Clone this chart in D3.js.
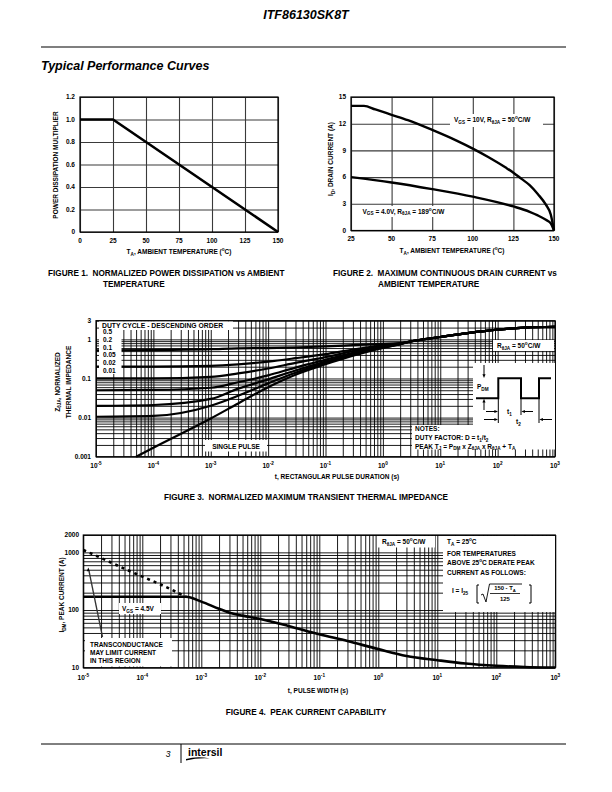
<!DOCTYPE html>
<html><head><meta charset="utf-8">
<script src="https://cdn.jsdelivr.net/npm/d3@7"></script>
<style>
body{margin:0;background:#fff;}
svg{display:block;font-family:"Liberation Sans",Arial,Helvetica,sans-serif;}
text{font-weight:bold;fill:#000;white-space:pre;}
</style></head><body>
<svg id="page" width="612" height="792"></svg>
<script>
// ---------------- DATA ----------------
// Figure 1
const fig1Temp = [0, 25, 150];
const fig1Mult = [1.0, 1.0, 0.0];
const fig1XTicks = [0, 25, 50, 75, 100, 125, 150];
const fig1YTicks = [0, 0.2, 0.4, 0.6, 0.8, 1.0, 1.2];
const fig1YLabels = ["0", "0.2", "0.4", "0.6", "0.8", "1.0", "1.2"];

// Figure 2
const fig2Temp10V = [25, 33, 40, 50, 60, 75, 90, 100, 110, 120, 125, 130, 135, 140, 145, 148, 150];
const fig2Id10V   = [14, 14, 13.6, 13.0, 12.4, 11.3, 10.1, 9.2, 8.2, 7.1, 6.5, 5.8, 5.1, 4.1, 2.9, 1.8, 0];
const fig2Temp4V  = [25, 50, 75, 100, 125, 135, 140, 145, 148, 150];
const fig2Id4V    = [6.0, 5.4, 4.65, 3.8, 2.7, 2.1, 1.7, 1.2, 0.8, 0];
const fig2XTicks = [25, 50, 75, 100, 125, 150];
const fig2YTicks = [0, 3, 6, 9, 12, 15];

// Figure 3 (normalized transient thermal impedance)
const fig3Time   = [1e-5, 1e-4, 1e-3, 3e-3, 1e-2, 3e-2, 0.1, 0.3, 1, 2];
const fig3D050   = [0.52, 0.53, 0.56, 0.59, 0.60, 0.62, 0.66, 0.71, 0.77, 0.80];
const fig3D020   = [0.20, 0.20, 0.21, 0.23, 0.27, 0.33, 0.42, 0.55, 0.70, 0.79];
const fig3D010   = [0.10, 0.10, 0.11, 0.135, 0.18, 0.25, 0.35, 0.50, 0.68, 0.78];
const fig3D005   = [0.05, 0.051, 0.058, 0.08, 0.12, 0.19, 0.30, 0.45, 0.65, 0.77];
const fig3D002   = [0.02, 0.021, 0.03, 0.055, 0.095, 0.16, 0.27, 0.42, 0.63, 0.76];
const fig3D001   = [0.0105, 0.011, 0.02, 0.036, 0.075, 0.14, 0.25, 0.40, 0.62, 0.75];
const fig3SingleTime = [5e-5, 1e-4, 1e-3, 3e-3, 1e-2, 3e-2, 0.1, 0.3, 1, 2];
const fig3SingleZ    = [0.001, 0.0017, 0.0095, 0.023, 0.06, 0.125, 0.23, 0.38, 0.60, 0.74];
const fig3TailTime = [3, 10, 30, 100, 300, 1000];
const fig3TailZ    = [0.88, 1.15, 1.45, 1.78, 2.0, 2.1];
const fig3DutyLabels = ["0.5", "0.2", "0.1", "0.05", "0.02", "0.01"];
const fig3YTicks  = [0.001, 0.01, 0.1, 1, 3];
const fig3YLabels = ["0.001", "0.01", "0.1", "1", "3"];
const decadeExps = [-5, -4, -3, -2, -1, 0, 1, 2, 3];

// Figure 4 (peak current capability)
const fig4SolidTime = [1e-5, 5.5e-4, 1e-3, 2e-3, 3e-3, 5e-3, 1e-2, 3e-2, 0.1, 0.3, 1, 3, 10, 30, 100, 300, 1000];
const fig4SolidI    = [170, 170, 140, 105, 90, 80, 70, 53, 38, 29, 21, 16, 13.5, 11.8, 10.8, 10.3, 10.1];
const fig4DashTime  = [1e-5, 2e-5, 5e-5, 1e-4, 2e-4, 5.5e-4];
const fig4DashI     = [1100, 800, 520, 380, 280, 170];
const fig4YTicks  = [10, 100, 1000, 2000];
const fig4YLabels = ["10", "100", "1000", "2000"];

// ---------------- HELPERS ----------------
const svg = d3.select("#page");
const FS = 6.5;

function rich(g, x, y, parts, size, anchor) {
  const t = g.append("text").attr("x", x).attr("y", y)
    .attr("font-size", size).attr("text-anchor", anchor || "start");
  let shift = 0;
  parts.forEach(p => {
    const s = typeof p === "string" ? p : p[0];
    const k = typeof p === "string" ? "" : p[1];
    const target = k === "sub" ? size * 0.3 : (k === "sup" ? -size * 0.45 : 0);
    const ts = t.append("tspan").text(s).attr("dy", target - shift);
    if (k) ts.attr("font-size", size * 0.72);
    shift = target;
  });
  return t;
}
function vrich(g, cx, cy, parts, size) {
  const gg = g.append("g").attr("transform", `translate(${cx},${cy}) rotate(-90)`);
  return rich(gg, 0, 0, parts, size, "middle");
}
function logVals(lo, hi) {
  const v = [];
  for (let e = lo; e < hi; e++) for (let m = 1; m < 10; m++) v.push(+(m * Math.pow(10, e)).toPrecision(6));
  v.push(Math.pow(10, hi));
  return v;
}
function grid(g, x, y, xv, yv, color, sw) {
  const [y0, y1] = y.range();
  const [x0, x1] = x.range();
  g.append("g").attr("transform", `translate(0,${y0})`)
    .call(d3.axisBottom(x).tickValues(xv).tickSize(y1 - y0).tickFormat(""))
    .call(a => a.select(".domain").remove())
    .selectAll("line").attr("stroke", color).attr("stroke-width", sw);
  g.append("g").attr("transform", `translate(${x0},0)`)
    .call(d3.axisLeft(y).tickValues(yv).tickSize(x0 - x1).tickFormat(""))
    .call(a => a.select(".domain").remove())
    .selectAll("line").attr("stroke", color).attr("stroke-width", sw);
}
function frame(g, x, y) {
  const [y0, y1] = y.range();
  const [x0, x1] = x.range();
  g.append("rect").attr("x", x0).attr("y", y1).attr("width", x1 - x0).attr("height", y0 - y1)
    .attr("fill", "none").attr("stroke", "#000").attr("stroke-width", 1.2);
}
function box(g, x, y, w, h) {
  g.append("rect").attr("x", x).attr("y", y).attr("width", w).attr("height", h).attr("fill", "#fff");
}
function curve(g, x, y, xs, ys, sw, dash, straight) {
  const pts = xs.map((d, i) => [d, ys[i]]);
  const gen = d3.line().x(d => x(d[0])).y(d => y(d[1]));
  if (!straight) gen.curve(d3.curveMonotoneX);
  const p = g.append("path").datum(pts).attr("d", gen)
    .attr("fill", "none").attr("stroke", "#000").attr("stroke-width", sw)
    .attr("stroke-linejoin", "round");
  if (dash) p.attr("stroke-dasharray", dash);
  return p;
}
function arrowHead(g, tx, ty, dir, s) {
  s = s || 3;
  let pts;
  if (dir === "down") pts = [[tx, ty], [tx - s * 0.6, ty - s * 1.4], [tx + s * 0.6, ty - s * 1.4]];
  if (dir === "up") pts = [[tx, ty], [tx - s * 0.6, ty + s * 1.4], [tx + s * 0.6, ty + s * 1.4]];
  if (dir === "right") pts = [[tx, ty], [tx - s * 1.4, ty - s * 0.6], [tx - s * 1.4, ty + s * 0.6]];
  if (dir === "left") pts = [[tx, ty], [tx + s * 1.4, ty - s * 0.6], [tx + s * 1.4, ty + s * 0.6]];
  g.append("path").attr("d", "M" + pts.map(p => p.join(",")).join("L") + "Z").attr("fill", "#000");
}
function line(g, x1, y1, x2, y2, sw, col) {
  g.append("line").attr("x1", x1).attr("y1", y1).attr("x2", x2).attr("y2", y2)
    .attr("stroke", col || "#000").attr("stroke-width", sw || 1);
}
function expLabel(g, x, y, e) {
  rich(g, x, y, ["10", [String(e), "sup"]], FS, "middle");
}

// ---------------- HEADER / FOOTER ----------------
svg.append("text").attr("x", 306).attr("y", 19).attr("text-anchor", "middle")
  .attr("font-size", 12.5).attr("font-style", "italic").text("ITF86130SK8T");
line(svg, 41, 47, 566, 47, 1.2);
svg.append("text").attr("x", 41).attr("y", 70).attr("font-size", 12.5)
  .attr("font-style", "italic").text("Typical Performance Curves");

line(svg, 41, 744, 566, 744, 1);
line(svg, 181, 744, 181, 763, 1);
svg.append("text").attr("x", 168).attr("y", 757).attr("text-anchor", "middle")
  .attr("font-size", 8.5).attr("font-style", "italic").style("font-weight", "normal").text("3");
svg.append("text").attr("x", 188).attr("y", 756).attr("font-size", 10.5).style("font-weight", "900").text("intersil");
svg.append("path").attr("d", "M186,759 Q197,756 210,758.5 Q197,757.8 186,760.5Z").attr("fill", "#000");

// ---------------- FIGURE 1 ----------------
{
  const g = svg.append("g");
  const x = d3.scaleLinear().domain([0, 150]).range([80, 278]);
  const y = d3.scaleLinear().domain([0, 1.2]).range([232, 97]);
  grid(g, x, y, fig1XTicks, fig1YTicks, "#3a3a3a", 1.1);
  frame(g, x, y);
  curve(g, x, y, fig1Temp, fig1Mult, 2.6, null, true);
  fig1YTicks.forEach((v, i) => g.append("text").attr("x", 75).attr("y", y(v) + 2.3)
    .attr("text-anchor", "end").attr("font-size", FS).text(fig1YLabels[i]));
  fig1XTicks.forEach(v => g.append("text").attr("x", x(v)).attr("y", 243)
    .attr("text-anchor", "middle").attr("font-size", FS).text(v));
  rich(g, 179, 254, ["T", ["A", "sub"], ", AMBIENT TEMPERATURE (", ["o", "sup"], "C)"], FS, "middle");
  vrich(g, 57.5, 165, ["POWER DISSIPATION MULTIPLIER"], FS);
  g.append("text").attr("x", 48).attr("y", 276).attr("font-size", 8.2)
    .text("FIGURE 1.  NORMALIZED POWER DISSIPATION vs AMBIENT");
  g.append("text").attr("x", 103).attr("y", 287).attr("font-size", 8.2).text("TEMPERATURE");
}

// ---------------- FIGURE 2 ----------------
{
  const g = svg.append("g");
  const x = d3.scaleLinear().domain([25, 150]).range([351, 554]);
  const y = d3.scaleLinear().domain([0, 15]).range([230.5, 97]);
  grid(g, x, y, fig2XTicks, fig2YTicks, "#3a3a3a", 1.1);
  frame(g, x, y);
  curve(g, x, y, fig2Temp10V, fig2Id10V, 2.4);
  curve(g, x, y, fig2Temp4V, fig2Id4V, 2.4);
  box(g, 450, 114, 93, 13);
  rich(g, 454, 122, ["V", ["GS", "sub"], " = 10V, R", ["θJA", "sub"], " = 50", ["o", "sup"], "C/W"], FS);
  box(g, 359, 206, 89, 11);
  rich(g, 362.5, 213.5, ["V", ["GS", "sub"], " = 4.0V, R", ["θJA", "sub"], " = 189", ["o", "sup"], "C/W"], FS);
  fig2YTicks.forEach(v => g.append("text").attr("x", 346).attr("y", y(v) + 2.3)
    .attr("text-anchor", "end").attr("font-size", FS).text(v));
  fig2XTicks.forEach(v => g.append("text").attr("x", x(v)).attr("y", 240.5)
    .attr("text-anchor", "middle").attr("font-size", FS).text(v));
  rich(g, 452, 253, ["T", ["A", "sub"], ", AMBIENT TEMPERATURE (", ["o", "sup"], "C)"], FS, "middle");
  vrich(g, 333, 159, ["I", ["D", "sub"], ", DRAIN CURRENT (A)"], FS);
  g.append("text").attr("x", 333).attr("y", 276).attr("font-size", 8.2)
    .text("FIGURE 2.  MAXIMUM CONTINUOUS DRAIN CURRENT vs");
  g.append("text").attr("x", 378).attr("y", 287).attr("font-size", 8.2).text("AMBIENT TEMPERATURE");
}

// ---------------- FIGURE 3 ----------------
{
  const g = svg.append("g");
  const x = d3.scaleLog().domain([1e-5, 1e3]).range([96, 555]);
  const y = d3.scaleLog().domain([0.001, 3]).range([456.7, 320.7]);
  grid(g, x, y, logVals(-5, 3), logVals(-3, 0).concat([2, 3]), "#000", 0.9);
  frame(g, x, y);
  const series = [fig3D050, fig3D020, fig3D010, fig3D005, fig3D002, fig3D001];
  series.forEach(s => curve(g, x, y, fig3Time.concat(fig3TailTime), s.concat(fig3TailZ), 2.2));
  curve(g, x, y, fig3SingleTime, fig3SingleZ, 2.2);

  box(g, 99, 321.5, 134, 8.5);
  g.append("text").attr("x", 102).attr("y", 328.3).attr("font-size", 6.8).text("DUTY CYCLE - DESCENDING ORDER");
  box(g, 99, 329, 22.5, 45);
  fig3DutyLabels.forEach((d, i) => g.append("text").attr("x", 103).attr("y", 334 + i * 7.8)
    .attr("font-size", FS).text(d));
  box(g, 205, 440, 62, 11.5);
  g.append("text").attr("x", 236).attr("y", 448.5).attr("text-anchor", "middle").attr("font-size", FS).text("SINGLE PULSE");
  box(g, 493, 340, 61, 11);
  rich(g, 497, 348, ["R", ["θJA", "sub"], " = 50", ["o", "sup"], "C/W"], FS);
  box(g, 473, 363, 82, 63);
  box(g, 412, 425, 143, 24.5);
  g.append("text").attr("x", 415).attr("y", 430.8).attr("font-size", FS).text("NOTES:");
  rich(g, 415, 440, ["DUTY FACTOR: D = t", ["1", "sub"], "/t", ["2", "sub"]], FS);
  rich(g, 415, 448.5, ["PEAK T", ["J", "sub"], " = P", ["DM", "sub"], " x Z", ["θJA", "sub"], " x R", ["θJA", "sub"], " + T", ["A", "sub"]], FS);

  g.append("path").attr("d", "M476,398.3H498.3V378.3H521V398.3H539V378.3H551")
    .attr("fill", "none").attr("stroke", "#000").attr("stroke-width", 2);
  rich(g, 477, 389, ["P", ["DM", "sub"]], FS);
  line(g, 484, 365, 484, 375, 1);
  arrowHead(g, 484, 378, "down", 2.6);
  line(g, 484, 410, 484, 402, 1);
  arrowHead(g, 484, 398.8, "up", 2.6);
  line(g, 498.3, 398, 498.3, 423, 1);
  line(g, 521, 398, 521, 415, 1);
  line(g, 539, 398, 539, 423, 1);
  line(g, 486, 411.5, 495, 411.5, 1); arrowHead(g, 498, 411.5, "right", 2.6);
  line(g, 533, 411.5, 524, 411.5, 1); arrowHead(g, 521.3, 411.5, "left", 2.6);
  rich(g, 507, 413.8, ["t", ["1", "sub"]], FS);
  line(g, 484, 419.5, 495, 419.5, 1); arrowHead(g, 498, 419.5, "right", 2.6);
  line(g, 552, 419.5, 542, 419.5, 1); arrowHead(g, 539.3, 419.5, "left", 2.6);
  rich(g, 516, 424, ["t", ["2", "sub"]], FS);

  fig3YTicks.forEach((v, i) => g.append("text").attr("x", 91).attr("y", y(v) + 2.3)
    .attr("text-anchor", "end").attr("font-size", FS).text(fig3YLabels[i]));
  decadeExps.forEach(e => expLabel(g, x(Math.pow(10, e)), 467.5, e));
  g.append("text").attr("x", 337).attr("y", 479).attr("text-anchor", "middle").attr("font-size", FS)
    .text("t, RECTANGULAR PULSE DURATION (s)");
  vrich(g, 59.5, 382, ["Z", ["θJA", "sub"], ", NORMALIZED"], FS);
  vrich(g, 70.5, 382, ["THERMAL IMPEDANCE"], FS);
  g.append("text").attr("x", 306).attr("y", 499.5).attr("text-anchor", "middle").attr("font-size", 8.2)
    .text("FIGURE 3.  NORMALIZED MAXIMUM TRANSIENT THERMAL IMPEDANCE");
}

// ---------------- FIGURE 4 ----------------
{
  const g = svg.append("g");
  const x = d3.scaleLog().domain([1e-5, 1e3]).range([83.3, 555.3]);
  const y = d3.scaleLog().domain([10, 2000]).range([667.7, 535]);
  grid(g, x, y, logVals(-5, 3), logVals(1, 3).concat([2000]), "#000", 0.9);
  frame(g, x, y);
  curve(g, x, y, fig4SolidTime, fig4SolidI, 2.6);
  curve(g, x, y, fig4DashTime, fig4DashI, 2.6, "3,4");

  box(g, 119, 603, 42, 11);
  rich(g, 122, 610.8, ["V", ["GS", "sub"], " = 4.5V"], FS);
  box(g, 85, 638, 87, 28.5);
  ["TRANSCONDUCTANCE", "MAY LIMIT CURRENT", "IN THIS REGION"].forEach((s, i) =>
    g.append("text").attr("x", 90).attr("y", 646.5 + i * 8.4).attr("font-size", FS).text(s));
  line(g, 102.5, 637, 89, 571, 1.3, "#333");
  arrowHead(g, 88.3, 567.5, "up", 2.6);

  box(g, 378, 536, 57, 11.5);
  rich(g, 382, 544, ["R", ["θJA", "sub"], " = 50", ["o", "sup"], "C/W"], FS);
  box(g, 443, 536, 112, 76);
  rich(g, 447, 544, ["T", ["A", "sub"], " = 25", ["o", "sup"], "C"], FS);
  g.append("text").attr("x", 447).attr("y", 555.5).attr("font-size", FS).text("FOR TEMPERATURES");
  rich(g, 447, 565.3, ["ABOVE 25", ["o", "sup"], "C DERATE PEAK"], FS);
  g.append("text").attr("x", 447).attr("y", 575.3).attr("font-size", FS).text("CURRENT AS FOLLOWS:");
  rich(g, 452, 593, ["I = I", ["25", "sub"]], FS);
  g.append("path").attr("d", "M479,585H477V603H479").attr("fill", "none").attr("stroke", "#000").attr("stroke-width", 1);
  g.append("path").attr("d", "M529,585H531V603H529").attr("fill", "none").attr("stroke", "#000").attr("stroke-width", 1);
  g.append("path").attr("d", "M481,595L483,594L486,602L489.5,584H522").attr("fill", "none").attr("stroke", "#000").attr("stroke-width", 0.9);
  rich(g, 505, 590, ["150 - T", ["A", "sub"]], FS * 0.9, "middle");
  line(g, 490, 593.5, 520, 593.5, 0.8);
  g.append("text").attr("x", 505).attr("y", 601).attr("text-anchor", "middle").attr("font-size", FS * 0.9).text("125");

  fig4YTicks.forEach((v, i) => g.append("text").attr("x", 79).attr("y", y(v) + 2.3)
    .attr("text-anchor", "end").attr("font-size", FS).text(fig4YLabels[i]));
  decadeExps.forEach(e => expLabel(g, x(Math.pow(10, e)), 679.5, e));
  g.append("text").attr("x", 318).attr("y", 693).attr("text-anchor", "middle").attr("font-size", FS)
    .text("t, PULSE WIDTH (s)");
  vrich(g, 64, 595, ["I", ["DM", "sub"], ", PEAK CURRENT (A)"], FS);
  g.append("text").attr("x", 306).attr("y", 714.5).attr("text-anchor", "middle").attr("font-size", 8.2)
    .text("FIGURE 4.  PEAK CURRENT CAPABILITY");
}
</script>
</body></html>
